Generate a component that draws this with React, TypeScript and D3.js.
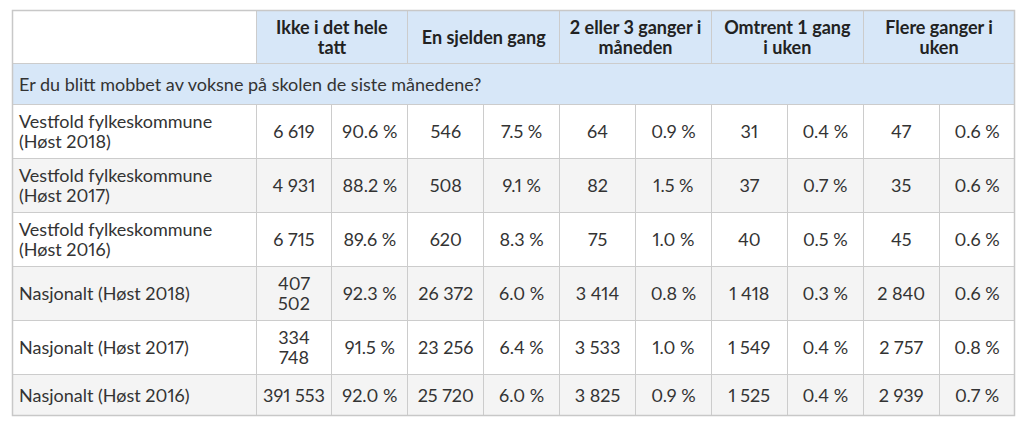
import { useMemo } from "react";
import * as d3 from "d3";

const question = "Er du blitt mobbet av voksne på skolen de siste månedene?";
const columns = [
  "Ikke i det hele tatt",
  "En sjelden gang",
  "2 eller 3 ganger i måneden",
  "Omtrent 1 gang i uken",
  "Flere ganger i uken",
];
const rowLabels = [
  "Vestfold fylkeskommune (Høst 2018)",
  "Vestfold fylkeskommune (Høst 2017)",
  "Vestfold fylkeskommune (Høst 2016)",
  "Nasjonalt (Høst 2018)",
  "Nasjonalt (Høst 2017)",
  "Nasjonalt (Høst 2016)",
];
const counts = [
  [6619, 546, 64, 31, 47],
  [4931, 508, 82, 37, 35],
  [6715, 620, 75, 40, 45],
  [407502, 26372, 3414, 1418, 2840],
  [334748, 23256, 3533, 1549, 2757],
  [391553, 25720, 3825, 1525, 2939],
];
const percents = [
  [90.6, 7.5, 0.9, 0.4, 0.6],
  [88.2, 9.1, 1.5, 0.7, 0.6],
  [89.6, 8.3, 1.0, 0.5, 0.6],
  [92.3, 6.0, 0.8, 0.3, 0.6],
  [91.5, 6.4, 1.0, 0.4, 0.8],
  [92.0, 6.0, 0.9, 0.4, 0.7],
];

const FONT = "Lato, 'Noto Sans', sans-serif";
const SIZE = 18;
const LINE = 20;
const NUMS = "proportional-nums";

const locale = d3.formatLocale({
  decimal: ".",
  thousands: " ",
  grouping: [3],
  currency: ["", ""],
});
const fmtCount = locale.format(",d");
const fmtPct = (v: number) => d3.format(".1f")(v) + "\u00A0%";

// measure with a hidden svg text so font features apply
let probe: SVGTextElement | null = null;
function measure(text: string, weight: string, nums: string) {
  if (!probe) {
    const s = d3
      .select(document.body)
      .append("svg")
      .attr("width", 0)
      .attr("height", 0)
      .style("position", "absolute")
      .style("visibility", "hidden");
    probe = s.append("text").attr("font-family", FONT).attr("font-size", SIZE).node();
  }
  probe!.setAttribute("font-weight", weight);
  probe!.style.fontVariantNumeric = nums;
  probe!.textContent = text;
  return probe!.getComputedTextLength();
}

// greedy word wrap
function wrap(text: string, maxW: number, weight = "normal", nums = NUMS) {
  const words = text.split(" ");
  const lines: string[] = [];
  let cur = "";
  words.forEach((w) => {
    const t = cur ? cur + " " + w : w;
    if (cur && measure(t, weight, nums) > maxW) {
      lines.push(cur);
      cur = w;
    } else cur = t;
  });
  lines.push(cur);
  return lines;
}

const App = () => {
  const width = 1024;
  const height = 424;
  const left = 12;
  const right = 1015;
  const top = 10;
  const labelW = 244;
  const pad = 7;
  const numPad = 6.5;
  const headPad = 9;

  const x = d3
    .scaleBand<number>()
    .domain(d3.range(columns.length * 2))
    .range([left + labelW, right])
    .padding(0);
  const bw = x.bandwidth();

  const layout = useMemo(() => {
    const header = columns.map((c) => wrap(c, bw * 2 - headPad * 2, "bold", "normal"));
    const rows = rowLabels.map((lab, i) => {
      const label = wrap(lab, labelW - pad * 2);
      const cells = counts[i].flatMap((c, j) => [
        wrap(fmtCount(c), bw - numPad * 2),
        [fmtPct(percents[i][j])],
      ]);
      const n = Math.max(label.length, ...cells.map((c) => c.length));
      return { label, cells, n };
    });
    return { header, rows };
  }, [bw]);

  const rowH = (n: number) => Math.max(42, 14 + n * LINE);
  const headerH = rowH(d3.max(layout.header, (h) => h.length)!) - 1;
  const qH = 41;
  const heights = [headerH, qH, ...layout.rows.map((r) => rowH(r.n))];
  const ys = [top, ...Array.from(d3.cumsum(heights), (v) => v + top)];
  const bottom = ys[ys.length - 1];

  const border = "#cccccc";
  const blue = "#d7e7f8";
  const grey = "#f4f4f4";
  const ink = "#333333";

  const lines = (
    arr: string[],
    cx: number,
    cy: number,
    anchor: string,
    weight = "normal",
    color = ink,
    nums = NUMS
  ) => (
    <text
      x={cx}
      textAnchor={anchor}
      fontFamily={FONT}
      fontSize={SIZE}
      fontWeight={weight}
      fill={color}
      style={{ fontVariantNumeric: nums }}
    >
      {arr.map((t, k) => (
        <tspan key={k} x={cx} y={cy - ((arr.length - 1) * LINE) / 2 + k * LINE} dominantBaseline="central">
          {t}
        </tspan>
      ))}
    </text>
  );

  return (
    <svg
      width={width}
      height={height}
      style={{ position: "absolute", left: 0, top: 0, background: "#fff" }}
    >
      {/* header */}
      <rect x={left} y={ys[0]} width={labelW} height={heights[0]} fill="#fff" />
      {columns.map((c, j) => (
        <g key={c}>
          <rect x={x(j * 2)} y={ys[0]} width={bw * 2} height={heights[0]} fill={blue} />
          {lines(layout.header[j], x(j * 2)! + bw, ys[0] + heights[0] / 2, "middle", "bold", "#222", "normal")}
        </g>
      ))}

      {/* question row */}
      <rect x={left} y={ys[1]} width={right - left} height={qH} fill={blue} />
      {lines([question], left + pad, ys[1] + qH / 2, "start")}

      {/* data rows */}
      {layout.rows.map((r, i) => {
        const y0 = ys[i + 2];
        const h = heights[i + 2];
        const cy = y0 + h / 2;
        return (
          <g key={i}>
            <rect x={left} y={y0} width={right - left} height={h} fill={i % 2 === 1 ? grey : "#fff"} />
            {lines(r.label, left + pad, cy, "start")}
            {r.cells.map((c, k) => lines(c, x(k)! + bw / 2, cy, "middle"))}
          </g>
        );
      })}

      {/* grid lines */}
      <g stroke={border} strokeWidth={1} shapeRendering="crispEdges">
        {ys.slice(1, -1).map((y, i) => (
          <line key={"h" + i} x1={left} x2={right} y1={y + 0.5} y2={y + 0.5} />
        ))}
        <line x1={left + labelW} x2={left + labelW} y1={top} y2={ys[1]} />
        {columns.map((_, j) => (
          <line key={"hc" + j} x1={x(j * 2)!} x2={x(j * 2)!} y1={top} y2={ys[1]} />
        ))}
        {d3.range(columns.length * 2).map((k) => (
          <line key={"c" + k} x1={x(k)!} x2={x(k)!} y1={ys[2]} y2={bottom} />
        ))}
        <line x1={left + labelW} x2={left + labelW} y1={ys[2]} y2={bottom} />
      </g>
      <rect
        x={left + 0.5}
        y={top + 0.5}
        width={right - left - 1}
        height={bottom - top - 1}
        fill="none"
        stroke="#c8c8c8"
        strokeWidth={1.5}
      />
    </svg>
  );
};

export default App;
